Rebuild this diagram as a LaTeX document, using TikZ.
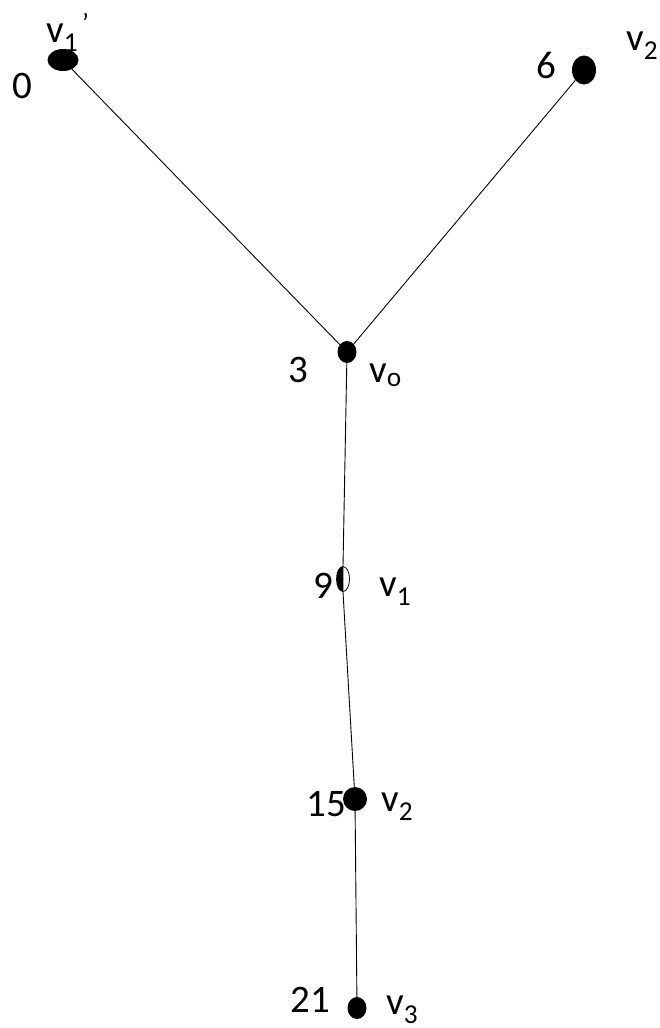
\documentclass[tikz,border=0pt]{standalone}
\usepackage{fontspec}
\setmainfont{Carlito}
\usetikzlibrary{shapes.geometric}

\begin{document}
\begin{tikzpicture}[
  x=1pt, y=-1pt,
  dot/.style={ellipse, fill=black, inner sep=0pt, minimum width=22pt, minimum height=22pt},
  halfdot/.style={ellipse, draw, line width=0.8pt, inner sep=0pt,
    path picture={\fill (path picture bounding box.north west) rectangle (path picture bounding box.south);}},
  lbl/.style={font=\fontsize{39}{41}\selectfont, inner sep=0pt, anchor=base},
  vname/.style={font=\fontsize{39}{41}\selectfont, inner sep=0pt, anchor=base west},
  edge/.style={line width=0.9pt, black}
]
\useasboundingbox (0,0) rectangle (660,1028);
% vertices
\node[dot, minimum width=31pt] (w1) at (63,60) {};
\node[dot, minimum width=24pt, minimum height=29pt] (w2) at (584,70) {};
\node[dot, minimum width=19pt] (v0) at (347,352) {};
\node[halfdot, minimum width=13pt, minimum height=25pt] (v1) at (343,579) {};
\node[dot, minimum width=24pt, minimum height=24pt] (v2) at (355,799) {};
\node[dot, minimum width=19pt] (v3) at (357,1008) {};
% edges
\draw[edge] (w1) -- (v0.center);
\draw[edge] (w2) -- (v0.center);
\draw[edge] (v0.center) -- (v1.north) -- (v1.south) -- (v2.center) -- (v3);
% values
\node[lbl] (n0) at (22,98) {0};
\node[lbl] (n6) at (546,78) {6};
\node[lbl] (n3) at (298,382) {3};
\node[lbl] (n9) at (323,598) {9};
\node[lbl] (n15) at (326,816) {15};
\node[lbl] (n21) at (310,1012) {21};
% names
\node[vname] (t1) at (46,42) {v\rlap{\textsubscript{1}}\textsuperscript{\,\,\,\,'}};
\node[vname] (t2) at (626,50) {v\textsubscript{2}};
\node[vname] (t0) at (369,382) {v\textsubscript{o}};
\node[vname] (t9) at (379,596) {v\textsubscript{1}};
\node[vname] (t15) at (381,811) {v\textsubscript{2}};
\node[vname] (t21) at (386,1014) {v\textsubscript{3}};
\end{tikzpicture}
\end{document}
